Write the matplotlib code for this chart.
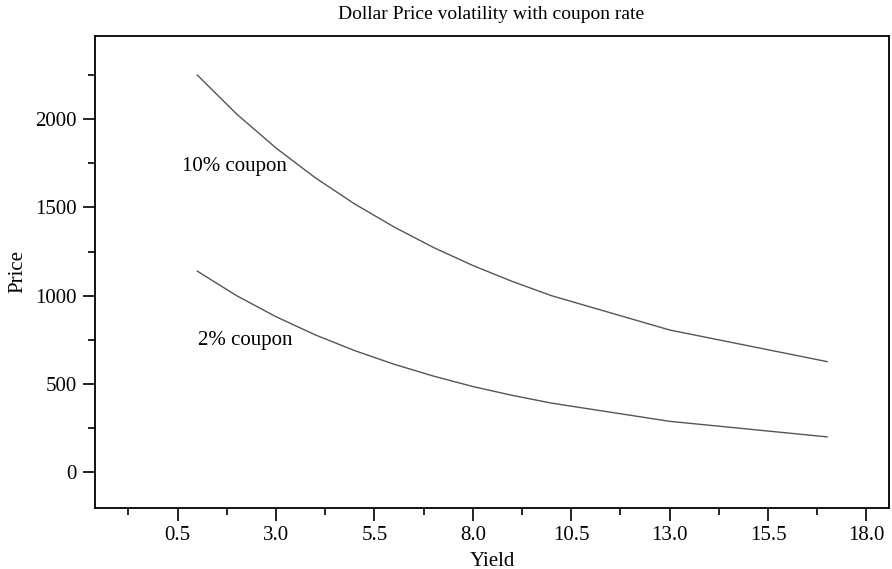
import matplotlib
matplotlib.use('Agg')
import matplotlib.pyplot as plt
from matplotlib.ticker import MultipleLocator, FormatStrFormatter

plt.rcParams['font.family'] = ['Liberation Serif', 'DejaVu Serif']

# yields (%) and prices
yields = [1, 2, 3, 4, 5, 6, 7, 8, 9, 10, 13, 17]
price_10pct = [2249, 2028, 1836, 1667, 1519, 1389, 1273, 1171, 1081, 1000, 806, 627]
price_2pct = [1139, 1000, 881, 778, 689, 612, 545, 486, 436, 392, 289, 201]

fig = plt.figure(figsize=(8.92, 5.69), dpi=100)
ax = fig.add_axes([0.1065, 0.1077, 0.89, 0.829])

ax.plot(yields, price_10pct, color='#555555', lw=1.0)
ax.plot(yields, price_2pct, color='#555555', lw=1.0)

ax.text(0.61, 1729, '10% coupon', fontsize=15, va='center', ha='left')
ax.text(1.02, 749, '2% coupon', fontsize=15, va='center', ha='left')

ax.set_xlim(-1.6, 18.57)
ax.set_ylim(-200, 2470)

ax.xaxis.set_major_locator(MultipleLocator(2.5, offset=0.5))
ax.xaxis.set_minor_locator(MultipleLocator(1.25, offset=0.5))
ax.xaxis.set_major_formatter(FormatStrFormatter('%.1f'))
ax.yaxis.set_major_locator(MultipleLocator(500))
ax.yaxis.set_minor_locator(MultipleLocator(250))

ax.tick_params(which='major', direction='out', length=9, width=1.2, labelsize=15, pad=4)
ax.tick_params(which='minor', direction='out', length=5, width=1.2)
for s in ax.spines.values():
    s.set_linewidth(1.3)

ax.set_xlabel('Yield', fontsize=15, labelpad=5)
ax.set_ylabel('Price', fontsize=15, labelpad=6)
fig.text(0.551, 0.975, 'Dollar Price volatility with coupon rate', fontsize=14, ha='center', va='center')

fig.savefig('out.png', dpi=100)
